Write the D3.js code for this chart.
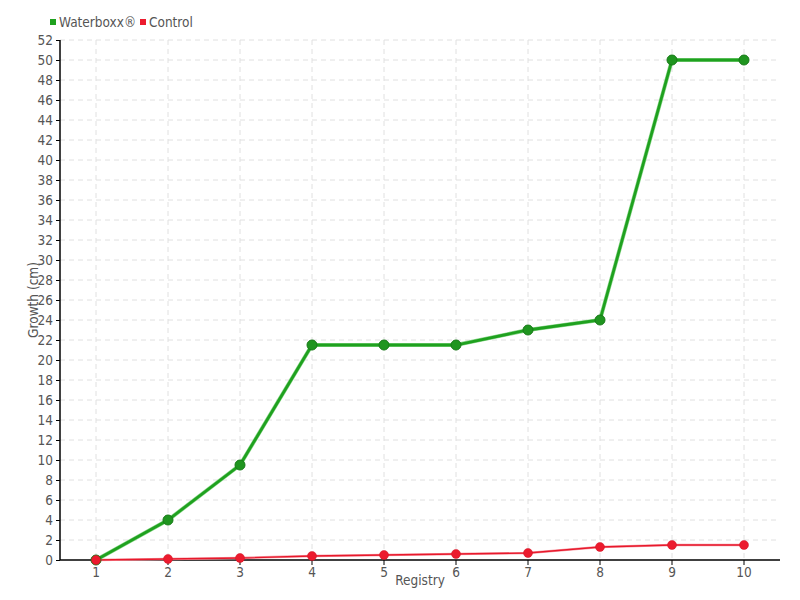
<!DOCTYPE html>
<html><head><meta charset="utf-8">
<script src="https://cdn.jsdelivr.net/npm/d3@7"></script>
<style>body{margin:0;background:#fff}text{font-family:"DejaVu Sans Condensed","Liberation Sans Narrow",sans-serif;}</style>
</head><body><svg id="c" width="800" height="600"></svg>
<script>
const categories = ["1","2","3","4","5","6","7","8","9","10"];
const waterboxx = [0, 4, 9.5, 21.5, 21.5, 21.5, 23, 24, 50, 50];
const control = [0, 0.1, 0.2, 0.4, 0.5, 0.6, 0.7, 1.3, 1.5, 1.5];
const yTicks = d3.range(0, 53, 2);
const seriesNames = ["Waterboxx®", "Control"];

const svg = d3.select("#c");
const m = {l:60, r:20, t:40, b:40};
const W = 800, H = 600;
const x = d3.scaleBand().domain(categories).range([m.l, W - m.r]);
const y = d3.scaleLinear().domain([0, 52]).range([H - m.b, m.t]);
const cx = d => x(d) + x.bandwidth()/2;
const FS = "13.5px";

// grid
const g = svg.append("g");
g.selectAll(".hg").data(yTicks.filter(d=>d>0)).join("line")
  .attr("x1", m.l).attr("x2", W - m.r).attr("y1", d=>y(d)).attr("y2", d=>y(d))
  .attr("stroke", "#e0e0e0").attr("stroke-dasharray", "5,4");
g.selectAll(".vg").data(categories).join("line")
  .attr("x1", d=>cx(d)).attr("x2", d=>cx(d)).attr("y1", m.t).attr("y2", H - m.b)
  .attr("stroke", "#e0e0e0").attr("stroke-dasharray", "5,4");

// axes
const ya = svg.append("g").attr("transform", `translate(${m.l},0)`)
  .call(d3.axisLeft(y).tickValues(yTicks).tickSize(4).tickPadding(3));
const xa = svg.append("g").attr("transform", `translate(0,${H - m.b})`)
  .call(d3.axisBottom(x).tickSize(5).tickPadding(2));
[ya, xa].forEach(a => {
  a.select(".domain").attr("stroke", "#000").attr("stroke-width", 1.5);
  a.selectAll(".tick line").attr("stroke", "#000");
  a.selectAll("text").attr("fill", "#555").style("font-size", FS);
});
xa.select(".domain").attr("d", `M${m.l},0H${W - m.r}`);
ya.select(".domain").attr("d", `M0,${m.t}V${H - m.b}`);

// labels
svg.append("text").attr("x", (m.l + W - m.r)/2).attr("y", 585).attr("text-anchor", "middle")
  .attr("fill", "#555").style("font-size", FS).text("Registry");
svg.append("text").attr("transform", `translate(38,${(m.t + H - m.b)/2}) rotate(-90)`)
  .attr("text-anchor", "middle").attr("fill", "#555").style("font-size", FS).text("Growth (cm)");

// lines
const line = d3.line().x((d,i)=>cx(categories[i])).y(d=>y(d));
svg.append("path").datum(control).attr("d", line).attr("fill", "none")
  .attr("stroke", "#f7a0a8").attr("stroke-width", 2.5);
svg.append("path").datum(control).attr("d", line).attr("fill", "none")
  .attr("stroke", "#e8192c").attr("stroke-width", 1.3);
svg.append("path").datum(waterboxx).attr("d", line).attr("fill", "none")
  .attr("stroke", "#8fd88f").attr("stroke-width", 4);
svg.append("path").datum(waterboxx).attr("d", line).attr("fill", "none")
  .attr("stroke", "#1fa11f").attr("stroke-width", 2.8);

svg.append("g").selectAll("circle").data(waterboxx).join("circle")
  .attr("cx", (d,i)=>cx(categories[i])).attr("cy", d=>y(d)).attr("r", 5)
  .attr("fill", "#1f951f").attr("stroke", "#187a18").attr("stroke-width", 1);
svg.append("g").selectAll("circle").data(control).join("circle")
  .attr("cx", (d,i)=>cx(categories[i])).attr("cy", d=>y(d)).attr("r", 4.5)
  .attr("fill", "#ec1b2e").attr("stroke", "#d01525").attr("stroke-width", 0.5);

// legend
const colors = ["#1fa11f", "#ec1b2e"];
const lx = [50, 140];
seriesNames.forEach((n, i) => {
  svg.append("rect").attr("x", lx[i]).attr("y", 19).attr("width", 6).attr("height", 6).attr("fill", colors[i]);
  svg.append("text").attr("x", lx[i] + 9).attr("y", 27).attr("fill", "#555").style("font-size", FS).text(n);
});
</script></body></html>
